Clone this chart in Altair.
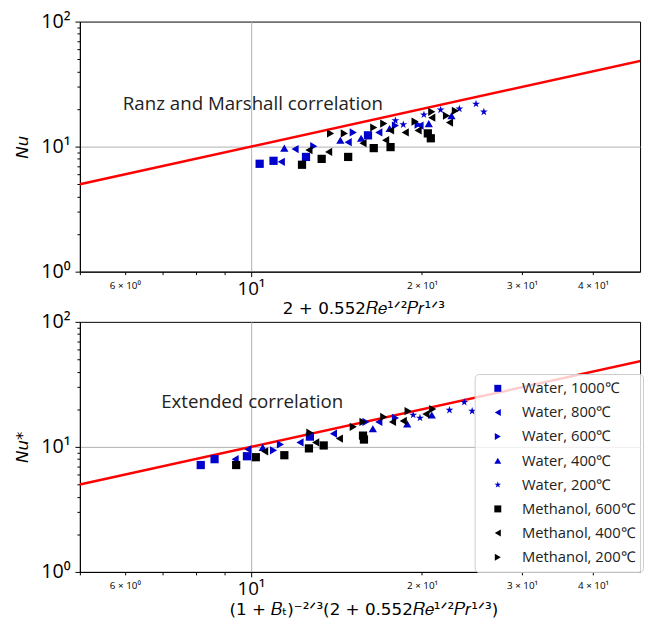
import altair as alt
import pandas as pd

# ---------------- data ----------------
series = ["Water, 1000℃", "Water, 800℃", "Water, 600℃", "Water, 400℃", "Water, 200℃",
          "Methanol, 600℃", "Methanol, 400℃", "Methanol, 200℃"]
colors = ["#0000cd"] * 5 + ["#000000"] * 3
STAR = "M0,-1L0.2245,-0.309L0.951,-0.309L0.363,0.118L0.588,0.809L0,0.382L-0.588,0.809L-0.363,0.118L-0.951,-0.309L-0.2245,-0.309Z"
shapes = ["square", "triangle-left", "triangle-right", "triangle-up", STAR,
          "square", "triangle-left", "triangle-right"]

# top panel: x = 2+0.552Re^1/2Pr^1/3, y = Nu
top_x = {
    "Water, 1000℃": [10.36, 10.96, 12.50, 16.07],
    "Water, 800℃": [11.31, 11.96, 14.83, 16.79, 19.84],
    "Water, 600℃": [12.90, 15.14, 17.96, 19.69],
    "Water, 400℃": [11.45, 14.37, 15.63, 17.54, 20.56, 22.54],
    "Water, 200℃": [17.96, 18.54, 20.16, 21.57, 23.27, 24.90, 25.70],
    "Methanol, 600℃": [12.30, 13.32, 14.83, 16.45, 17.61, 20.48, 20.73],
    "Methanol, 400℃": [12.65, 13.70, 15.75, 17.26, 17.61, 18.69, 19.69, 20.81, 22.36],
    "Methanol, 200℃": [13.81, 14.60, 16.45, 17.13, 19.45, 20.81, 22.09, 22.90],
}
top_y = {
    "Water, 1000℃": [7.29, 7.70, 8.27, 12.31],
    "Water, 800℃": [7.56, 9.56, 10.85, 12.99, 14.75],
    "Water, 600℃": [10.09, 12.99, 14.75, 15.01],
    "Water, 400℃": [9.73, 11.25, 11.66, 13.97, 15.29, 17.67],
    "Water, 200℃": [16.14, 15.01, 17.99, 19.69, 20.05, 21.94, 18.98],
    "Methanol, 600℃": [7.16, 7.98, 8.27, 9.73, 9.91, 12.76, 11.66],
    "Methanol, 400℃": [9.39, 9.06, 10.65, 11.25, 13.47, 12.99, 13.47, 17.03, 15.57],
    "Methanol, 200℃": [12.76, 12.76, 14.22, 15.29, 15.85, 18.98, 17.67, 19.33],
}
# bottom panel: x = (1+B_T)^-2/3 (2+0.552Re^1/2Pr^1/3), y = Nu*
bot_x = {
    "Water, 1000℃": [8.16, 8.63, 9.84, 12.70],
    "Water, 800℃": [9.38, 9.88, 12.20, 13.97, 16.79],
    "Water, 600℃": [10.96, 11.27, 15.94, 17.96],
    "Water, 400℃": [10.49, 16.39, 18.84, 20.81],
    "Water, 200℃": [19.30, 19.84, 22.36, 23.74, 24.51],
    "Methanol, 600℃": [9.42, 10.20, 11.45, 12.65, 13.43, 15.75, 15.81],
    "Methanol, 400℃": [10.57, 13.00, 14.31, 17.75, 18.54, 20.32],
    "Methanol, 200℃": [12.70, 15.14, 15.75, 17.13, 18.91, 20.89],
}
bot_y = {
    "Water, 1000℃": [7.16, 7.98, 8.42, 12.09],
    "Water, 800℃": [7.98, 9.56, 10.85, 12.76, 15.85],
    "Water, 600℃": [9.39, 10.46, 15.85, 17.03],
    "Water, 400℃": [9.91, 13.97, 15.29, 17.99],
    "Water, 200℃": [17.99, 17.03, 19.69, 22.75, 19.33],
    "Methanol, 600℃": [7.16, 8.27, 8.58, 9.73, 10.27, 12.31, 11.45],
    "Methanol, 400℃": [9.22, 10.85, 11.66, 15.85, 16.14, 18.31],
    "Methanol, 200℃": [12.99, 14.48, 15.85, 17.35, 19.33, 20.05],
}
line_x = [5, 50]
line_y = [5, 50]
notes_top = ["Ranz and Marshall correlation"]
notes_top_x = [5.95]
notes_top_y = [21.9]
notes_bot = ["Extended correlation"]
notes_bot_x = [6.95]
notes_bot_y = [22.7]

x_ticks = [5, 6, 7, 8, 9, 10, 20, 30, 40]
y_ticks = [1, 2, 3, 4, 5, 6, 7, 8, 9, 10, 20, 30, 40, 50, 60, 70, 80, 90, 100]


def frame(xs, ys):
    rows = []
    for s in series:
        for a, b in zip(xs[s], ys[s]):
            rows.append({"series": s, "x": a, "y": b})
    return pd.DataFrame(rows)


df_top = frame(top_x, top_y)
df_bot = frame(bot_x, bot_y)
df_line = pd.DataFrame({"x": line_x, "y": line_y})

LABEL_FONT = "Open Sans"
TITLE_FONT = "DejaVu Sans"

x_label_expr = ("datum.value == 6 ? '6 × 10⁰' : datum.value == 10 ? '10¹' : "
                "datum.value == 20 ? '2 × 10¹' : datum.value == 30 ? '3 × 10¹' : "
                "datum.value == 40 ? '4 × 10¹' : ''")
y_label_expr = ("datum.value == 1 ? '10⁰' : datum.value == 10 ? '10¹' : "
                "datum.value == 100 ? '10²' : ''")


def x_axis(title):
    return alt.Axis(
        values=x_ticks, labelExpr=x_label_expr, title=title,
        labelFont=LABEL_FONT,
        labelFontSize={"condition": {"test": "datum.value == 10", "value": 19}, "value": 10},
        labelPadding={"condition": {"test": "datum.value == 10", "value": 3}, "value": 6},
        tickSize={"condition": {"test": "datum.value == 10", "value": 5}, "value": 3},
        grid=True,
        gridOpacity={"condition": {"test": "datum.value == 10", "value": 1}, "value": 0},
        gridColor="#b0b0b0", gridWidth=1,
        domainColor="black", tickColor="black", labelColor="black",
        labelFlush=False, labelOverlap=False,
        titleFont=TITLE_FONT, titleFontSize=17, titleFontWeight="normal",
        titleColor="black", titlePadding=3, titleX=288,
    )


def y_axis(title):
    return alt.Axis(
        values=y_ticks, labelExpr=y_label_expr, title=title,
        labelFont=LABEL_FONT, labelFontSize=20,
        tickSize={"condition": {"test": "datum.value == 1 || datum.value == 10 || datum.value == 100", "value": 5}, "value": 3},
        grid=True,
        gridOpacity={"condition": {"test": "datum.value == 10", "value": 1}, "value": 0},
        gridColor="#b0b0b0", gridWidth=1,
        domainColor="black", tickColor="black", labelColor="black",
        labelFlush=False, labelOverlap=False, labelPadding=5,
        titleFont=TITLE_FONT, titleFontSize=17, titleFontWeight="normal",
        titleFontStyle="italic", titleColor="black", titlePadding=9,
    )


# the reference figure is cropped at its right edge, a little before x = 50
xs = alt.Scale(type="log", domain=[5, 48.4], nice=False)
ys = alt.Scale(type="log", domain=[1, 100], nice=False)


def panel(df, xtitle, ytitle, notes, nx, ny, show_legend):
    line = alt.Chart(df_line).mark_line(color="#ff0000", strokeWidth=2.5, clip=True).encode(
        x=alt.X("x:Q", scale=xs, axis=x_axis(xtitle)),
        y=alt.Y("y:Q", scale=ys, axis=y_axis(ytitle)),
    )
    if show_legend:
        leg = alt.Legend(
            title=None, orient="none", legendX=401, legendY=53,
            labelFont=LABEL_FONT, labelFontSize=15, labelColor="#222",
            symbolSize=50, symbolOffset=9, labelOffset=17, rowPadding=8.5,
            padding=7, strokeColor="#cccccc", fillColor="rgba(255,255,255,0.8)",
            cornerRadius=4, symbolStrokeWidth=0,
        )
    else:
        leg = None
    pts = alt.Chart(df).mark_point(filled=True, opacity=1, size=70).encode(
        x=alt.X("x:Q", scale=xs),
        y=alt.Y("y:Q", scale=ys),
        color=alt.Color("series:N", scale=alt.Scale(domain=series, range=colors), legend=leg),
        shape=alt.Shape("series:N", scale=alt.Scale(domain=series, range=shapes), legend=leg),
    )
    tdf = pd.DataFrame({"t": notes, "x": nx, "y": ny})
    txt = alt.Chart(tdf).mark_text(align="left", baseline="middle", font=LABEL_FONT,
                                   fontSize=19, color="#222").encode(
        x=alt.X("x:Q", scale=xs), y=alt.Y("y:Q", scale=ys), text="t:N")
    return alt.layer(line, pts, txt).properties(width=569, height=254)


top = panel(df_top, "2 + 0.552𝑅𝑒¹ᐟ²𝑃𝑟¹ᐟ³", "Nu", notes_top, notes_top_x, notes_top_y, False)
bot = panel(df_bot, "(1 + 𝐵ₜ)⁻²ᐟ³(2 + 0.552𝑅𝑒¹ᐟ²𝑃𝑟¹ᐟ³)", "Nu*", notes_bot, notes_bot_x, notes_bot_y, True)

chart = alt.vconcat(top, bot, spacing=51, bounds="flush").resolve_scale(
    color="independent", shape="independent"
).resolve_legend(color="independent", shape="independent").properties(
    padding={"left": 5, "top": -2, "right": 0, "bottom": -5}
).configure_view(stroke="black", strokeWidth=1)

chart.save("out.html", embed_options={"renderer": "svg", "actions": False})
